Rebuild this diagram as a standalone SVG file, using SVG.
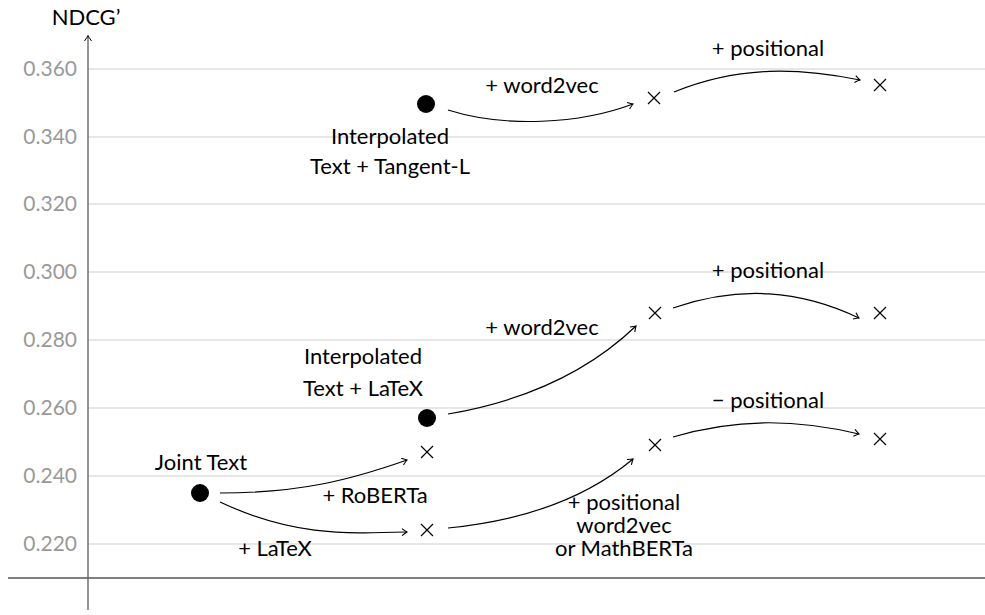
<svg xmlns="http://www.w3.org/2000/svg" width="985" height="615" viewBox="0 0 985 615">
<style>
  text { font-family: Lato, "Noto Sans", sans-serif; font-size: 22px; fill: #000; }
  .tick { fill: #999; text-anchor: end; font-size: 21px; }
  .mid { text-anchor: middle; }
  .grid { stroke: #cfcfcf; stroke-width: 1.2; }
  .edge { fill: none; stroke: #000; stroke-width: 1.2; marker-end: url(#arr); }
  .cross { stroke: #000; stroke-width: 1.2; }
</style>
<defs>
  <marker id="arr" viewBox="-6 -4 7 8" refX="0" refY="0" markerWidth="7" markerHeight="8" markerUnits="userSpaceOnUse" orient="auto">
    <path d="M-5,-3.5 Q-1.5,-0.8 0,0 Q-1.5,0.8 -5,3.5" fill="none" stroke="#000" stroke-width="1.1"/>
  </marker>
  <g id="x"><path class="cross" d="M-6,-6 L6,6 M-6,6 L6,-6"/></g>
</defs>
<rect width="985" height="615" fill="#fff"/>

<!-- grid and ticks -->
<g id="grid">
  <line class="grid" x1="88" y1="69" x2="985" y2="69"/>
  <line class="grid" x1="88" y1="137" x2="985" y2="137"/>
  <line class="grid" x1="88" y1="204" x2="985" y2="204"/>
  <line class="grid" x1="88" y1="272" x2="985" y2="272"/>
  <line class="grid" x1="88" y1="340" x2="985" y2="340"/>
  <line class="grid" x1="88" y1="408" x2="985" y2="408"/>
  <line class="grid" x1="88" y1="476" x2="985" y2="476"/>
  <line class="grid" x1="88" y1="544" x2="985" y2="544"/>
  <text class="tick" x="77" y="76">0.360</text>
  <text class="tick" x="77" y="144">0.340</text>
  <text class="tick" x="77" y="211">0.320</text>
  <text class="tick" x="77" y="279">0.300</text>
  <text class="tick" x="77" y="347">0.280</text>
  <text class="tick" x="77" y="415">0.260</text>
  <text class="tick" x="77" y="483">0.240</text>
  <text class="tick" x="77" y="551">0.220</text>
</g>

<!-- axes -->
<g id="axes">
  <line x1="8" y1="578" x2="985" y2="578" stroke="#000" stroke-width="1.2"/>
  <line x1="88" y1="610" x2="88" y2="36" stroke="#666" stroke-width="1.4"/>
  <path d="M84.5,41 Q87.3,37 88,35.5 Q88.7,37 91.5,41" fill="none" stroke="#000" stroke-width="1"/>
  <text class="mid" x="86" y="25">NDCG’</text>
</g>

<!-- connectors -->
<g id="connectors">
  <path class="edge" d="M220,493 C300,493 350,480 407,460"/>
  <path class="edge" d="M220,502 C290,535 340,534 407,532"/>
  <path class="edge" d="M448,528 C530,520 590,495 633,459"/>
  <path class="edge" d="M448,414 C530,400 590,370 636,326"/>
  <path class="edge" d="M673,308 C740,285 800,290 859,318"/>
  <path class="edge" d="M673,437 C740,417 800,420 859,434"/>
  <path class="edge" d="M448,110 C505,128 580,124 633,104"/>
  <path class="edge" d="M674,92 C740,65 800,68 860,80"/>
</g>

<!-- runs -->
<g id="joint-text">
  <circle cx="200" cy="493" r="9"/>
  <text class="mid" x="201" y="470">Joint Text</text>
</g>
<g id="interp-latex">
  <circle cx="427" cy="418" r="9"/>
  <text class="mid" x="363" y="364">Interpolated</text>
  <text class="mid" x="363" y="396">Text + LaTeX</text>
</g>
<g id="interp-tangent">
  <circle cx="426" cy="104" r="9"/>
  <text class="mid" x="390" y="144">Interpolated</text>
  <text class="mid" x="390" y="174">Text + Tangent-L</text>
</g>
<g id="roberta"><use href="#x" x="427" y="452"/></g>
<g id="latex"><use href="#x" x="427" y="530"/></g>
<g id="latex-pos"><use href="#x" x="655" y="445"/></g>
<g id="latex-w2v"><use href="#x" x="655" y="313"/></g>
<g id="tangent-w2v"><use href="#x" x="654" y="98"/></g>
<g id="latex-pos2"><use href="#x" x="880" y="439"/></g>
<g id="latex-w2v-pos"><use href="#x" x="880" y="313"/></g>
<g id="tangent-w2v-pos"><use href="#x" x="880" y="85"/></g>

<!-- edge labels -->
<g id="labels">
  <text class="mid" x="375" y="503">+ RoBERTa</text>
  <text class="mid" x="275" y="556">+ LaTeX</text>
  <text class="mid" x="624" y="510">+ positional</text>
  <text class="mid" x="624" y="533">word2vec</text>
  <text class="mid" x="624" y="556">or MathBERTa</text>
  <text class="mid" x="542" y="335">+ word2vec</text>
  <text class="mid" x="768" y="278">+ positional</text>
  <text class="mid" x="768" y="408">− positional</text>
  <text class="mid" x="542" y="93">+ word2vec</text>
  <text class="mid" x="768" y="56">+ positional</text>
</g>
</svg>
